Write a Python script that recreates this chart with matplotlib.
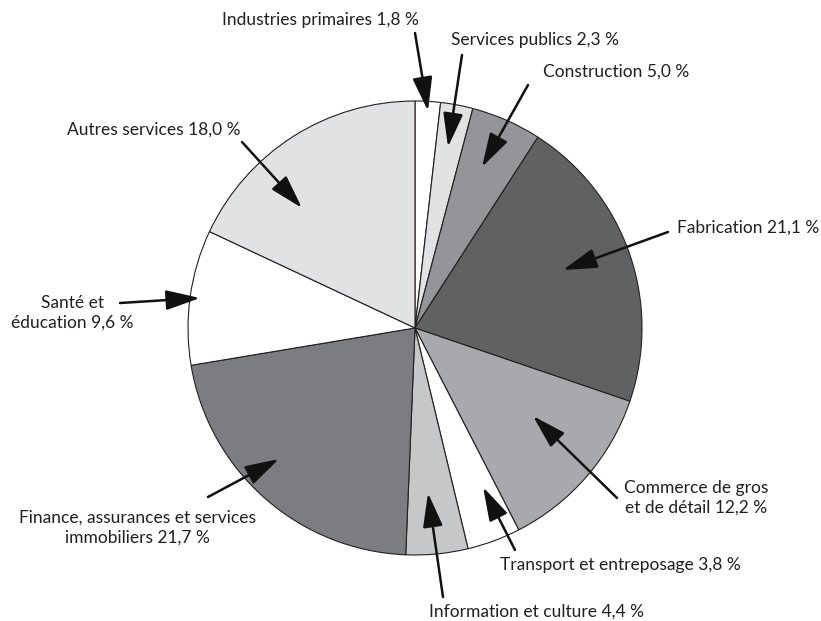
import matplotlib.pyplot as plt

plt.rcParams['font.family'] = ['Lato', 'DejaVu Sans']

# shares in per cent, clockwise from 12 o'clock
sectors = ['Industries primaires', 'Services publics', 'Construction', 'Fabrication',
           'Commerce de gros et de détail', 'Transport et entreposage',
           'Information et culture', 'Finance, assurances et services immobiliers',
           'Santé et éducation', 'Autres services']
shares = [1.8, 2.3, 5.0, 21.1, 12.2, 3.8, 4.4, 21.7, 9.6, 18.0]
fills = ['#ffffff', '#e1e2e3', '#939598', '#606163', '#a7a9ac',
         '#ffffff', '#c6c7c9', '#7c7d80', '#ffffff', '#e1e2e3']

labels = ['Industries primaires 1,8 %', 'Services publics 2,3 %', 'Construction 5,0 %',
          'Fabrication 21,1 %', 'Commerce de gros\net de détail 12,2 %',
          'Transport et entreposage 3,8 %', 'Information et culture 4,4 %',
          'Finance, assurances et services\nimmobiliers 21,7 %',
          'Santé et\néducation 9,6 %', 'Autres services 18,0 %']

W, H = 821, 621
fig = plt.figure(figsize=(W / 100, H / 100), dpi=100)
ax = fig.add_axes([0, 0, 1, 1])

cx, cy, r = 415, H - 328, 227
ax.pie(shares, colors=fills, startangle=90, counterclock=False,
       center=(cx, cy), radius=r, frame=True,
       wedgeprops=dict(edgecolor='#231f20', linewidth=0.8))
ax.set_xlim(0, W)
ax.set_ylim(0, H)
ax.set_aspect('equal')
ax.axis('off')

# label anchor (x, y, ha), arrow tail and arrow tip, in pixels from top-left
placements = [
    ((320, 20, 'center'), (415, 33), (428, 111)),
    ((451, 40, 'left'), (462, 55), (448, 147)),
    ((543, 72, 'left'), (528, 85), (482, 167)),
    ((677, 228, 'left'), (668, 232), (563, 270)),
    ((696, 498, 'center'), (617, 498), (533, 416)),
    ((500, 565, 'left'), (515, 550), (483, 487)),
    ((429, 612, 'left'), (443, 597), (428, 493)),
    ((137, 528, 'center'), (208, 497), (279, 459)),
    ((72, 313, 'center'), (120, 303), (200, 298)),
    ((67, 130, 'left'), (242, 142), (302, 208)),
]

for text, ((tx, ty, ha), tail, tip) in zip(labels, placements):
    ax.text(tx, H - ty, text, ha=ha, va='center', fontsize=12.5,
            color='#231f20', linespacing=1.3)
    ax.annotate('', xy=(tip[0], H - tip[1]), xytext=(tail[0], H - tail[1]),
                arrowprops=dict(arrowstyle='-|>,head_length=1.3,head_width=0.38',
                                mutation_scale=16, color='#111111', lw=1.8,
                                shrinkA=0, shrinkB=0))

fig.savefig('out.png', dpi=100)
